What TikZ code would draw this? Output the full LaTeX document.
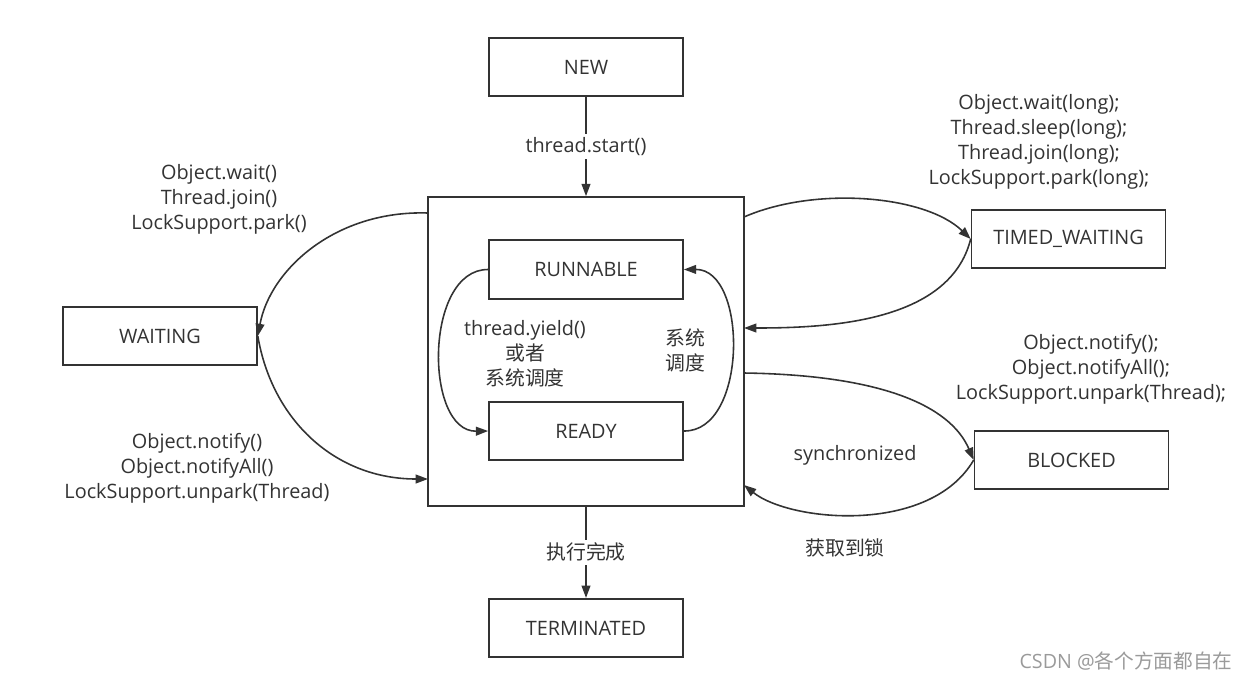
\documentclass[tikz,border=0pt]{standalone}
\usepackage{fontspec}
\setmainfont{Open Sans}
\newfontfamily\cjk{Noto Sans CJK SC}
\usetikzlibrary{arrows.meta}
\definecolor{ink}{HTML}{333333}
\definecolor{wm}{HTML}{9A9A9A}
\begin{document}
\begin{tikzpicture}[x=0.02cm,y=-0.02cm,
  every node/.style={text=ink,font=\fontsize{11.3}{14.2}\selectfont},
  state/.style={draw=ink,line width=0.95pt,minimum width=3.88cm,minimum height=1.17cm,inner sep=0pt},
  conn/.style={draw=ink,line width=0.9pt,-{Triangle[length=7pt,width=5pt]}},
  lbl/.style={align=center,inner sep=1pt},
  cut/.style={fill=white,inner sep=2pt}]
\useasboundingbox (0,0) rectangle (1247,680);
% nodes
\node[state] (new) at (586,67) {NEW};
\node[draw=ink,line width=0.95pt,minimum width=6.32cm,minimum height=6.18cm,inner sep=0pt] (main) at (586,351.5) {};
\node[state] (run) at (586,269.5) {RUNNABLE};
\node[state] (ready) at (586,431) {READY};
\node[state] (term) at (586,628) {TERMINATED};
\node[state] (wait) at (160,336) {WAITING};
\node[state] (tw) at (1068.5,239) {TIMED\_WAITING};
\node[state] (blk) at (1071.5,460) {BLOCKED};
% border points on main box
\coordinate (mL1) at (428,213);
\coordinate (mL2) at (428,479);
\coordinate (mR1) at (744,217);
\coordinate (mR2) at (744,328);
\coordinate (mR3) at (744,373);
\coordinate (mR4) at (744,485);
% straight connectors with labels
\draw[conn] (new) -- node[cut] (lstart) {thread.start()} (main);
\draw[conn] (main) -- node[cut] (ldone) {\cjk 执行完成} (term);
% inner loop
\draw[conn] (run.west) .. controls (424,269) and (424,432) .. (ready.west);
\draw[conn] (ready.east) .. controls (748,432) and (748,269) .. (run.east);
% waiting
\draw[conn] (mL1) .. controls (335,210) and (270,270) .. (wait.east);
\draw[conn] (wait.east) .. controls (272,420) and (335,479) .. (mL2);
% timed waiting
\draw[conn] (mR1) .. controls (815,186) and (925,195) .. (tw.west);
\draw[conn] (tw.west) .. controls (950,322) and (830,328) .. (mR2);
% blocked
\draw[conn] (mR3) .. controls (880,375) and (950,405) .. (blk.west);
\draw[conn] (blk.west) .. controls (930,535) and (790,522) .. (mR4);
% labels
\node[lbl] (lw) at (219,199) {Object.wait()\\Thread.join()\\LockSupport.park()};
\node[lbl] (ln) at (197,468) {Object.notify()\\Object.notifyAll()\\LockSupport.unpark(Thread)};
\node[lbl] (lt) at (1039,142) {Object.wait(long);\\Thread.sleep(long);\\Thread.join(long);\\LockSupport.park(long);};
\node[lbl] (lb) at (1091,369) {Object.notify();\\Object.notifyAll();\\LockSupport.unpark(Thread);};
\node[lbl] (ly) at (525,354) {thread.yield()\\{\cjk 或者}\\{\cjk 系统调度}};
\node[lbl] (ls) at (685,350) {\cjk 系统\\\cjk 调度};
\node[lbl] (lsync) at (855,455) {synchronized};
\node[lbl] (llock) at (845,548) {\cjk 获取到锁};
\node[text=wm,font=\fontsize{11.2}{13}\selectfont] (wmk) at (1126,661) {CSDN @{\cjk 各个方面都自在}};
\end{tikzpicture}
\end{document}
